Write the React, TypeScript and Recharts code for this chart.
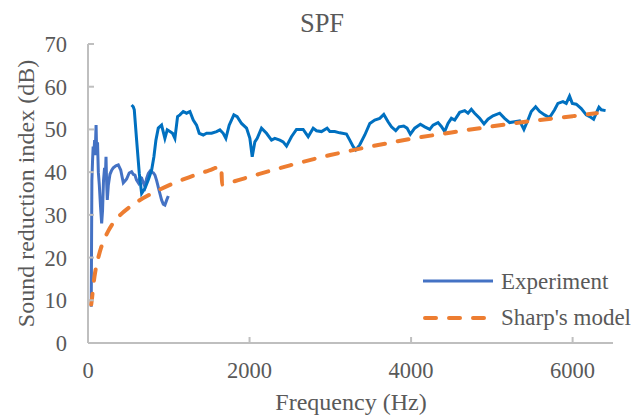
import React from "react";
import { LineChart, Line, XAxis, YAxis, Legend } from "recharts";

// Experiment, low-frequency measurement range
const expLowHz = [
  40, 48, 56, 64, 72, 82, 92, 100, 108, 118, 128, 140, 155, 169, 180, 192, 205,
  215, 223, 230, 239, 252, 272, 295, 313, 345, 375, 405, 437, 460, 478, 510, 540,
  560, 581, 600, 623, 645, 664, 685, 705, 725, 747, 770, 788, 810, 829, 850, 870,
  890, 911, 932, 952, 975, 994,
];
const expLowDb = [
  8.5, 38, 42.5, 46, 44, 47.5, 46, 51, 44, 47, 40, 37, 32, 28, 31, 38, 41, 39,
  43.6, 38, 33.5, 37, 39.5, 40.5, 41, 41.5, 41.7, 40.5, 37.5, 38, 38.4, 39.8,
  40.1, 39.5, 39.3, 38.2, 37.5, 38.8, 38.6, 37.5, 36.6, 38.5, 39.7, 40.3, 40,
  39.8, 39.3, 38, 36.5, 35, 33.5, 32.5, 32.3, 33.5, 34.4,
];

// Experiment, high-frequency measurement range
const expHighHz = [
  540, 560, 573, 602, 635, 664, 705, 747, 788, 816, 841, 870, 911, 952, 981,
  1014, 1047, 1076, 1109, 1138, 1179, 1220, 1262, 1303, 1344, 1377, 1427, 1468,
  1530, 1592, 1633, 1674, 1707, 1748, 1806, 1847, 1901, 1963, 2004, 2033, 2066,
  2095, 2148, 2210, 2272, 2313, 2375, 2416, 2458, 2519, 2581, 2664, 2726, 2788,
  2829, 2891, 2960, 2994, 3055, 3117, 3200, 3241, 3282, 3315, 3365, 3427, 3489,
  3550, 3612, 3662, 3715, 3757, 3810, 3851, 3909, 3950, 3991, 4045, 4115, 4169,
  4231, 4272, 4334, 4375, 4416, 4457, 4499, 4540, 4602, 4664, 4705, 4746, 4787,
  4849, 4903, 4952, 5014, 5097, 5158, 5220, 5282, 5344, 5397, 5447, 5488, 5542,
  5591, 5653, 5715, 5777, 5818, 5880, 5921, 5962, 5996, 6045, 6107, 6169, 6211,
  6260, 6293, 6326, 6355, 6408,
];
const expHighDb = [
  55.7, 55.3, 54.6, 47.5, 39.7, 35.0, 36.2, 38.2, 40.5, 43.6, 47.5, 50.3, 51.0,
  47.9, 49.9, 49.5, 49.1, 47.9, 53.0, 53.4, 54.2, 53.8, 54.2, 52.2, 51.0, 49.1,
  48.7, 49.1, 49.1, 49.5, 49.9, 49.1, 47.9, 51.0, 53.4, 53.0, 51.4, 50.3, 47.9,
  43.6, 47.1, 47.9, 50.3, 49.1, 47.5, 47.9, 47.5, 47.1, 46.1, 48.3, 50.0, 50.0,
  48.3, 50.3, 49.7, 49.5, 50.3, 49.5, 49.5, 49.2, 48.9, 47.5, 46.0, 45.2, 46.4,
  48.7, 51.4, 52.2, 52.6, 53.5, 51.8, 50.6, 49.7, 50.6, 50.8, 50.3, 48.9, 50.3,
  51.2, 50.6, 50.0, 51.0, 51.6, 50.7, 49.5, 51.4, 52.6, 52.2, 54.0, 54.4, 53.8,
  54.7, 53.8, 52.6, 51.3, 52.4, 53.2, 53.8, 52.6, 51.6, 51.8, 52.0, 50.0, 52.2,
  54.2, 55.3, 54.2, 53.4, 52.8, 54.6, 56.1, 56.5, 56.1, 57.8, 56.1, 55.9, 54.9,
  53.4, 53.0, 52.4, 53.8, 55.2, 54.6, 54.4,
];

// Sharp's model
const modelHz = [
  40, 50, 63, 80, 100, 125, 160, 200, 250, 315, 400, 500, 630, 800, 1000, 1250,
  1500, 1650, 1660, 1800, 2000, 2500, 3000, 3500, 4000, 4500, 5000, 5500, 6000,
  6300,
];
const modelDb = [
  9, 10.5, 13, 15.5, 17.8, 19.8, 22.2, 24.2, 26.2, 28.2, 30, 31.6, 33.3, 35.1,
  36.9, 38.8, 40.4, 41.3, 37.1, 37.8, 38.9, 41.6, 44, 46, 47.8, 49.3, 50.7, 52,
  53.1, 53.8,
];

const xTicks = [0, 2000, 4000, 6000];
const yTicks = [0, 10, 20, 30, 40, 50, 60, 70];
const seriesNames = ["Experiment", "Sharp's model"];

const zip = (hz: number[], db: number[]) =>
  hz.map((f, i) => ({ f, db: db[i] }));

const lowData = zip(expLowHz, expLowDb);
const highData = zip(expHighHz, expHighDb);
const modelData = zip(modelHz, modelDb);

const FONT = '"Liberation Serif", "Times New Roman", serif';
const TEXT = "#595959";
const AXIS = "#BFBFBF";
const BLUE_LOW = "#4472C4";
const BLUE_HIGH = "#0070C0";
const ORANGE = "#ED7D31";

const ChartLegend = () => (
  <svg width={230} height={80}>
    <line x1={8} x2={78} y1={19} y2={19} stroke={BLUE_LOW} strokeWidth={3} />
    <text x={86} y={27} fill={TEXT} fontSize={23} fontFamily={FONT}>
      {seriesNames[0]}
    </text>
    <line
      x1={10}
      x2={78}
      y1={56}
      y2={56}
      stroke={ORANGE}
      strokeWidth={4}
      strokeDasharray="11 13"
      strokeLinecap="round"
    />
    <text x={86} y={62.5} fill={TEXT} fontSize={23} fontFamily={FONT}>
      {seriesNames[1]}
    </text>
  </svg>
);

const App: React.FC = () => {
  const tickStyle = { fill: TEXT, fontSize: 22.5, fontFamily: FONT };
  return (
    <div style={{ width: 636, height: 419, background: "#fff" }}>
      <style>{`body{margin:0;}`}</style>
      <LineChart
        width={636}
        height={419}
        margin={{ top: 44, right: 23, bottom: 46, left: 0 }}
      >
        <XAxis
          dataKey="f"
          type="number"
          domain={[0, 6500]}
          ticks={xTicks}
          allowDataOverflow
          height={30}
          stroke={AXIS}
          strokeWidth={2}
          tickSize={-6}
          tickMargin={25}
          tick={tickStyle}
        />
        <YAxis
          type="number"
          domain={[0, 70]}
          ticks={yTicks}
          width={88}
          stroke={AXIS}
          strokeWidth={2}
          tickSize={-6}
          tickMargin={27}
          tick={tickStyle}
        />
        <Legend
          verticalAlign="middle"
          align="center"
          wrapperStyle={{ left: 415, top: 262, width: 230, height: 80 }}
          content={() => <ChartLegend />}
        />
        <Line
          data={lowData}
          dataKey="db"
          name={seriesNames[0]}
          stroke={BLUE_LOW}
          strokeWidth={3}
          dot={false}
          type="linear"
          isAnimationActive={false}
        />
        <Line
          data={highData}
          dataKey="db"
          name="Experiment (high)"
          stroke={BLUE_HIGH}
          strokeWidth={3}
          dot={false}
          type="linear"
          legendType="none"
          isAnimationActive={false}
        />
        <Line
          data={modelData}
          dataKey="db"
          name={seriesNames[1]}
          stroke={ORANGE}
          strokeWidth={4}
          strokeDasharray="11 13"
          strokeLinecap="round"
          dot={false}
          type="monotone"
          isAnimationActive={false}
        />
        <text
          x={322}
          y={32}
          textAnchor="middle"
          fill={TEXT}
          fontSize={26.5}
          fontFamily={FONT}
        >
          SPF
        </text>
        <text
          x={351}
          y={410}
          textAnchor="middle"
          fill={TEXT}
          fontSize={24}
          fontFamily={FONT}
        >
          Frequency (Hz)
        </text>
        <text
          x={34}
          y={193.5}
          textAnchor="middle"
          transform="rotate(-90, 34, 193.5)"
          fill={TEXT}
          fontSize={24}
          fontFamily={FONT}
        >
          Sound reduction index (dB)
        </text>
      </LineChart>
    </div>
  );
};

export default App;
